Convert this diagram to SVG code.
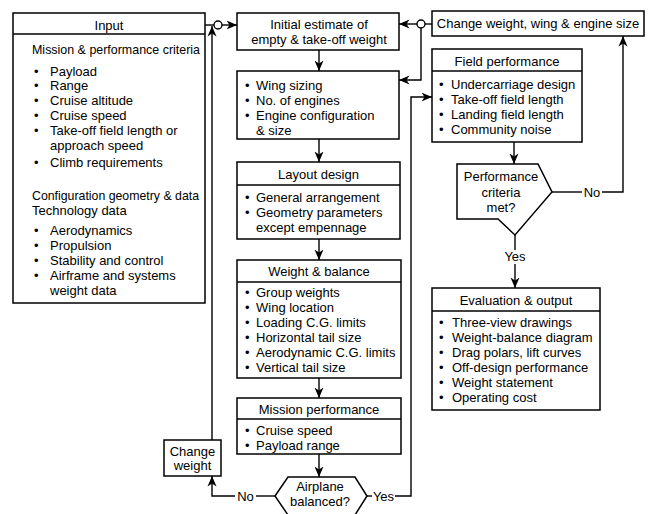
<svg xmlns="http://www.w3.org/2000/svg" width="650" height="514" viewBox="0 0 650 514">
<defs>
<style>
.box{fill:#fff;stroke:#000;stroke-width:1.5}
.ln{fill:none;stroke:#000;stroke-width:1.4}
.arr{marker-end:url(#ah)}
text{font-family:"Liberation Sans",Arial,Helvetica,sans-serif;font-size:13px;fill:#000}
.c{text-anchor:middle}
</style>
<marker id="ah" markerUnits="userSpaceOnUse" markerWidth="11" markerHeight="10" refX="10.5" refY="5" orient="auto">
<path d="M0,0.5 L10.5,5 L0,9.5 L3,5 z" fill="#000"/>
</marker>
</defs>
<rect width="650" height="514" fill="#fff"/>

<g id="connectors">
<path class="ln" d="M205,25 H214"/>
<circle class="ln" cx="218" cy="25" r="4"/>
<path class="ln arr" d="M222,25 H237"/>
<path class="ln arr" d="M212,440 V26"/>
<path class="ln arr" d="M319,50 V71"/>
<path class="ln arr" d="M319,139 V162"/>
<path class="ln arr" d="M319,239 V260"/>
<path class="ln arr" d="M319,378 V398"/>
<path class="ln arr" d="M319,454 V477"/>
<path class="ln" d="M275,496 H256"/>
<path class="ln arr" d="M235,496 H212 V476"/>
<text class="c" x="245.5" y="500.5">No</text>
<path class="ln" d="M367,496 H372"/>
<path class="ln arr" d="M395,496 H411 V97 H432"/>
<text class="c" x="383.5" y="500.5">Yes</text>
<path class="ln" d="M432,24 H425"/>
<circle class="ln" cx="421" cy="24" r="4"/>
<path class="ln arr" d="M417,24 H399"/>
<path class="ln arr" d="M421,28 V80 H399"/>
<path class="ln arr" d="M514,142 V164"/>
<path class="ln" d="M552,192 H582"/>
<path class="ln arr" d="M602,192 H623 V36"/>
<text class="c" x="592" y="196.5">No</text>
<path class="ln" d="M515,235 V250"/>
<path class="ln arr" d="M515,264 V288"/>
<text class="c" x="515" y="261">Yes</text>
</g>

<g id="input">
<rect class="box" x="13" y="13" width="192" height="290"/>
<path class="ln" d="M13,34 H205"/>
<text class="c" x="109" y="29.5">Input</text>
<text x="32" y="53.5" textLength="168" lengthAdjust="spacingAndGlyphs">Mission &amp; performance criteria</text>
<text y="75.5"><tspan x="34">•</tspan><tspan x="50">Payload</tspan></text>
<text y="89.5"><tspan x="34">•</tspan><tspan x="50">Range</tspan></text>
<text y="104.5"><tspan x="34">•</tspan><tspan x="50">Cruise altitude</tspan></text>
<text y="119.5"><tspan x="34">•</tspan><tspan x="50">Cruise speed</tspan></text>
<text y="134.5"><tspan x="34">•</tspan><tspan x="50">Take-off field length or</tspan></text>
<text x="50" y="149.5">approach speed</text>
<text y="166.5"><tspan x="34">•</tspan><tspan x="50">Climb requirements</tspan></text>
<text x="32" y="199.5" textLength="167" lengthAdjust="spacingAndGlyphs">Configuration geometry &amp; data</text>
<text x="32" y="214.5">Technology data</text>
<text y="234.5"><tspan x="34">•</tspan><tspan x="50">Aerodynamics</tspan></text>
<text y="249.5"><tspan x="34">•</tspan><tspan x="50">Propulsion</tspan></text>
<text y="264.5"><tspan x="34">•</tspan><tspan x="50">Stability and control</tspan></text>
<text y="279.5"><tspan x="34">•</tspan><tspan x="50">Airframe and systems</tspan></text>
<text x="50" y="294.5">weight data</text>
</g>

<g id="initial-estimate">
<rect class="box" x="237" y="13" width="162" height="37"/>
<text class="c" x="319" y="28.5">Initial estimate of</text>
<text class="c" x="319" y="43.5">empty &amp; take-off weight</text>
</g>

<g id="sizing">
<rect class="box" x="237" y="71" width="162" height="68"/>
<text y="89.5"><tspan x="245">•</tspan><tspan x="256">Wing sizing</tspan></text>
<text y="104.5"><tspan x="245">•</tspan><tspan x="256">No. of engines</tspan></text>
<text y="119.5"><tspan x="245">•</tspan><tspan x="256">Engine configuration</tspan></text>
<text x="256" y="134.5">&amp; size</text>
</g>

<g id="layout-design">
<rect class="box" x="237" y="162" width="163" height="77"/>
<path class="ln" d="M237,185 H400"/>
<text class="c" x="318.5" y="178.5">Layout design</text>
<text y="201.5"><tspan x="245">•</tspan><tspan x="256">General arrangement</tspan></text>
<text y="216.5"><tspan x="245">•</tspan><tspan x="256">Geometry parameters</tspan></text>
<text x="256" y="231.5">except empennage</text>
</g>

<g id="weight-balance">
<rect class="box" x="237" y="260" width="164" height="118"/>
<path class="ln" d="M237,282 H401"/>
<text class="c" x="319" y="275.5">Weight &amp; balance</text>
<text y="296.5"><tspan x="245">•</tspan><tspan x="256">Group weights</tspan></text>
<text y="311.5"><tspan x="245">•</tspan><tspan x="256">Wing location</tspan></text>
<text y="326.5"><tspan x="245">•</tspan><tspan x="256">Loading C.G. limits</tspan></text>
<text y="341.5"><tspan x="245">•</tspan><tspan x="256">Horizontal tail size</tspan></text>
<text y="356.5"><tspan x="245">•</tspan><tspan x="256">Aerodynamic C.G. limits</tspan></text>
<text y="371.5"><tspan x="245">•</tspan><tspan x="256">Vertical tail size</tspan></text>
</g>

<g id="mission-performance">
<rect class="box" x="237" y="398" width="164" height="56"/>
<path class="ln" d="M237,419 H401"/>
<text class="c" x="319" y="413.5">Mission performance</text>
<text y="434.5"><tspan x="245">•</tspan><tspan x="256">Cruise speed</tspan></text>
<text y="449.5"><tspan x="245">•</tspan><tspan x="256">Payload range</tspan></text>
</g>

<g id="airplane-balanced">
<polygon class="box" points="275,496 288,477 355,477 367,496 355,515 288,515"/>
<text class="c" x="320" y="491">Airplane</text>
<text class="c" x="320" y="506">balanced?</text>
</g>

<g id="change-weight">
<rect class="box" x="164" y="440" width="57" height="36"/>
<text class="c" x="192.5" y="456">Change</text>
<text class="c" x="192.5" y="470">weight</text>
</g>

<g id="change-weight-wing-engine">
<rect class="box" x="432" y="11" width="212" height="25"/>
<text class="c" x="538" y="27.5">Change weight, wing &amp; engine size</text>
</g>

<g id="field-performance">
<rect class="box" x="432" y="49" width="150" height="93"/>
<path class="ln" d="M432,71 H582"/>
<text class="c" x="507" y="65.5">Field performance</text>
<text y="88.5"><tspan x="439">•</tspan><tspan x="451">Undercarriage design</tspan></text>
<text y="103.5"><tspan x="439">•</tspan><tspan x="451">Take-off field length</tspan></text>
<text y="118.5"><tspan x="439">•</tspan><tspan x="451">Landing field length</tspan></text>
<text y="133.5"><tspan x="439">•</tspan><tspan x="451">Community noise</tspan></text>
</g>

<g id="performance-criteria">
<polygon class="box" points="457,164 538,164 552,192 515,235 498,219 457,219"/>
<text class="c" x="501" y="180.5">Performance</text>
<text class="c" x="501" y="196.5">criteria</text>
<text class="c" x="501" y="211.5">met?</text>
</g>

<g id="evaluation-output">
<rect class="box" x="432" y="288" width="168" height="122"/>
<path class="ln" d="M432,311 H600"/>
<text class="c" x="516" y="304.5">Evaluation &amp; output</text>
<text y="326.5"><tspan x="439">•</tspan><tspan x="452">Three-view drawings</tspan></text>
<text y="341.5"><tspan x="439">•</tspan><tspan x="452">Weight-balance diagram</tspan></text>
<text y="356.5"><tspan x="439">•</tspan><tspan x="452">Drag polars, lift curves</tspan></text>
<text y="371.5"><tspan x="439">•</tspan><tspan x="452">Off-design performance</tspan></text>
<text y="386.5"><tspan x="439">•</tspan><tspan x="452">Weight statement</tspan></text>
<text y="401.5"><tspan x="439">•</tspan><tspan x="452">Operating cost</tspan></text>
</g>
</svg>
